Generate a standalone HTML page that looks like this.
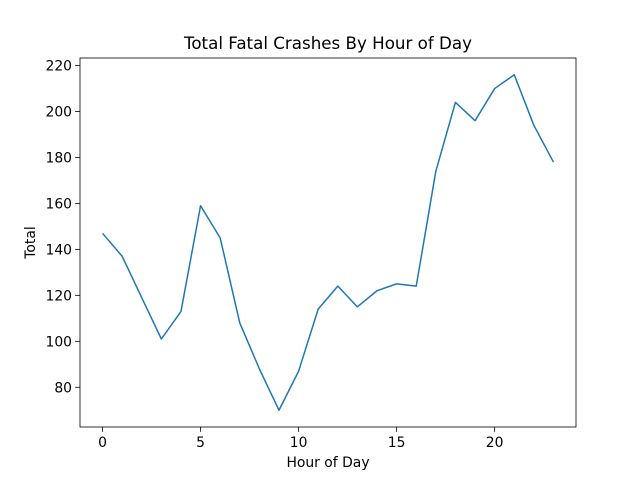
<!DOCTYPE html>
<html><head><meta charset="utf-8"><style>
body{margin:0;background:#fff;}
svg text{font-family:"DejaVu Sans","Liberation Sans",sans-serif;fill:#000;}
</style></head><body>
<svg id="chart" width="640" height="480" xmlns="http://www.w3.org/2000/svg">
<rect width="640" height="480" fill="#fff"/>
<text x="328" y="49" font-size="16.7" text-anchor="middle">Total Fatal Crashes By Hour of Day</text>
<text x="328" y="467" font-size="13.9" text-anchor="middle">Hour of Day</text>
<text transform="translate(35,242.5) rotate(-90)" font-size="13.9" text-anchor="middle">Total</text>
<g id="ticks"></g>
<polyline id="line" fill="none" stroke="#1f77b4" stroke-width="1.5" stroke-linejoin="round"/>
<rect x="80" y="58" width="496" height="369" fill="none" stroke="#000" stroke-width="0.8"/>
</svg>
<script>
const hours=[0,1,2,3,4,5,6,7,8,9,10,11,12,13,14,15,16,17,18,19,20,21,22,23];
const totals=[147,137,119,101,113,159,145,108,88,70,87,114,124,115,122,125,124,174,204,196,210,216,194,178];
const xTicks=[0,5,10,15,20];
const yTicks=[80,100,120,140,160,180,200,220];
const L=80,R=576,T=58,B=427;
const xmin=Math.min(...hours),xmax=Math.max(...hours),xr=xmax-xmin;
const ymin=Math.min(...totals),ymax=Math.max(...totals),yr=ymax-ymin;
const x0=xmin-0.05*xr,x1=xmax+0.05*xr,y0=ymin-0.05*yr,y1=ymax+0.05*yr;
const sx=v=>L+(v-x0)/(x1-x0)*(R-L);
const sy=v=>B-(v-y0)/(y1-y0)*(B-T);
const NS="http://www.w3.org/2000/svg";
const g=document.getElementById('ticks');
function mk(tag,attrs){const e=document.createElementNS(NS,tag);for(const k in attrs)e.setAttribute(k,attrs[k]);g.appendChild(e);return e;}
xTicks.forEach(t=>{
 const l=mk('line',{x1:sx(t),x2:sx(t),y1:B,y2:B+4.9,stroke:'#000','stroke-width':0.8});
 
 
 const tx=mk('text',{x:sx(t),y:B+20,'font-size':13.9,'text-anchor':'middle'});
 tx.textContent=t;
 
 
});
yTicks.forEach(t=>{
 const l=mk('line',{x1:L-4.9,x2:L,y1:sy(t),y2:sy(t),stroke:'#000','stroke-width':0.8});
 
 
 const tx=mk('text',{x:L-8,y:sy(t)+5,'font-size':13.9,'text-anchor':'end'});
 tx.textContent=t;
 
 
});
document.getElementById('line').setAttribute('points',hours.map((h,i)=>sx(h)+','+sy(totals[i])).join(' '));
</script>
</body></html>
